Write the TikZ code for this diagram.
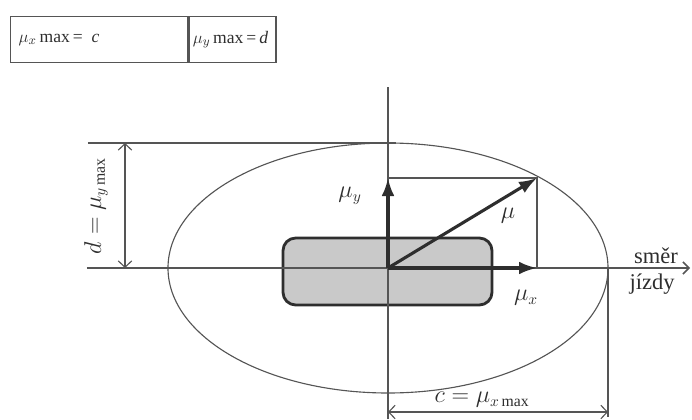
\documentclass[tikz,border=0pt]{standalone}
\usepackage{fontspec}
\setmainfont{Liberation Serif}
\usepackage{tikz}
\usetikzlibrary{arrows.meta,positioning}
\usepackage{xcolor}
\definecolor{ink}{HTML}{2E2E2E}
\definecolor{line}{HTML}{555555}
\definecolor{patchfill}{HTML}{C9C9C9}
\tikzset{
  every node/.style={font=\fontsize{16}{19}\selectfont,text=ink},
  thinline/.style={draw=line,line width=0.8pt},
  axis/.style={draw=line,line width=1.1pt},
  vec/.style={-{Latex[length=4.5mm,width=3.2mm]},draw=ink,line width=2.2pt},
  dimarr/.style={{Straight Barb[length=1.6mm,width=3.4mm]}-{Straight Barb[length=1.6mm,width=3.4mm]},draw=line,line width=0.8pt},
  patch/.style={draw=ink,line width=2pt,rounded corners=9pt,fill=patchfill},
  cell/.style={draw=line,line width=1pt,minimum height=11.5mm,inner sep=0pt},
  celltext/.style={font=\fontsize{12.5}{15}\selectfont,inner sep=2pt},
  lbl/.style={inner sep=1pt},
}
\begin{document}
\begin{tikzpicture}
\useasboundingbox (-9.7,-3.775) rectangle (7.6,6.7);
% table of maxima
\node[cell,minimum width=44.25mm,anchor=north west] (cellc) at (-9.45,6.3) {};
\node[cell,minimum width=21.75mm,right=0pt of cellc] (celld) {};
\node[celltext,anchor=west] (tc) at ([xshift=4pt]cellc.west) {$\mu_{x}$\,max\,=\ \ \textit{c}};
\node[celltext,anchor=east] (td) at ([xshift=-4pt]celld.east) {$\mu_{y}$\,max\,=\,\textit{d}};
% points
\coordinate (O) at (0,0);
\coordinate (xl) at (-7.525,0);
\coordinate (xr) at (7.55,0);
\coordinate (yb) at (0,-3.775);
\coordinate (yt) at (0,4.525);
\coordinate (mx) at (3.725,0);
\coordinate (my) at (0,2.25);
\coordinate (mu) at (3.725,2.25);
\coordinate (tl) at (-7.5,3.125);
\coordinate (tr) at (0.2,3.125);
\coordinate (cr) at (5.5,0);
\coordinate (cb) at (5.5,-3.72);
\coordinate (dtop) at (-6.575,3.125);
\coordinate (dbot) at (-6.575,0);
\coordinate (cleft) at (0,-3.6);
\coordinate (cright) at (5.5,-3.6);
% friction ellipse and contact patch
\draw[thinline] (O) ellipse [x radius=5.5,y radius=3.125];
\node[patch,minimum width=52.25mm,minimum height=16.75mm] (patch) at (-0.0125,-0.0875) {};
% axes and guide lines
\draw[axis,-{Straight Barb[length=1.5mm,width=3mm]}] (xl) -- (xr);
\draw[axis] (yb) -- (yt);
\draw[thinline] (tl) -- (tr);
\draw[thinline] (cr) -- (cb);
\draw[thinline] (my) -- (mu) -- (mx);
% vectors
\draw[vec] (O) -- (mx);
\draw[vec] (O) -- (my);
\draw[vec] (O) -- (mu);
% dimensions
\draw[dimarr] (dtop) -- (dbot);
\draw[dimarr] (cleft) -- (cright);
% labels
\node[lbl] (lmuy) at (-0.95,1.8) {$\mu_{y}$};
\node[lbl] (lmu) at (3.0,1.3) {$\mu$};
\node[lbl] (lmux) at (3.45,-0.75) {$\mu_{x}$};
\node[lbl] (lsmer) at (6.7,0.3) {směr};
\node[lbl] (ljizdy) at (6.6,-0.4) {jízdy};
\node[lbl,rotate=90] (ld) at (-7.3,1.55) {$d = \mu_{y\,\mathrm{max}}$};
\node[lbl] (lc) at (2.35,-3.3) {$c = \mu_{x\,\mathrm{max}}$};
\end{tikzpicture}
\end{document}
